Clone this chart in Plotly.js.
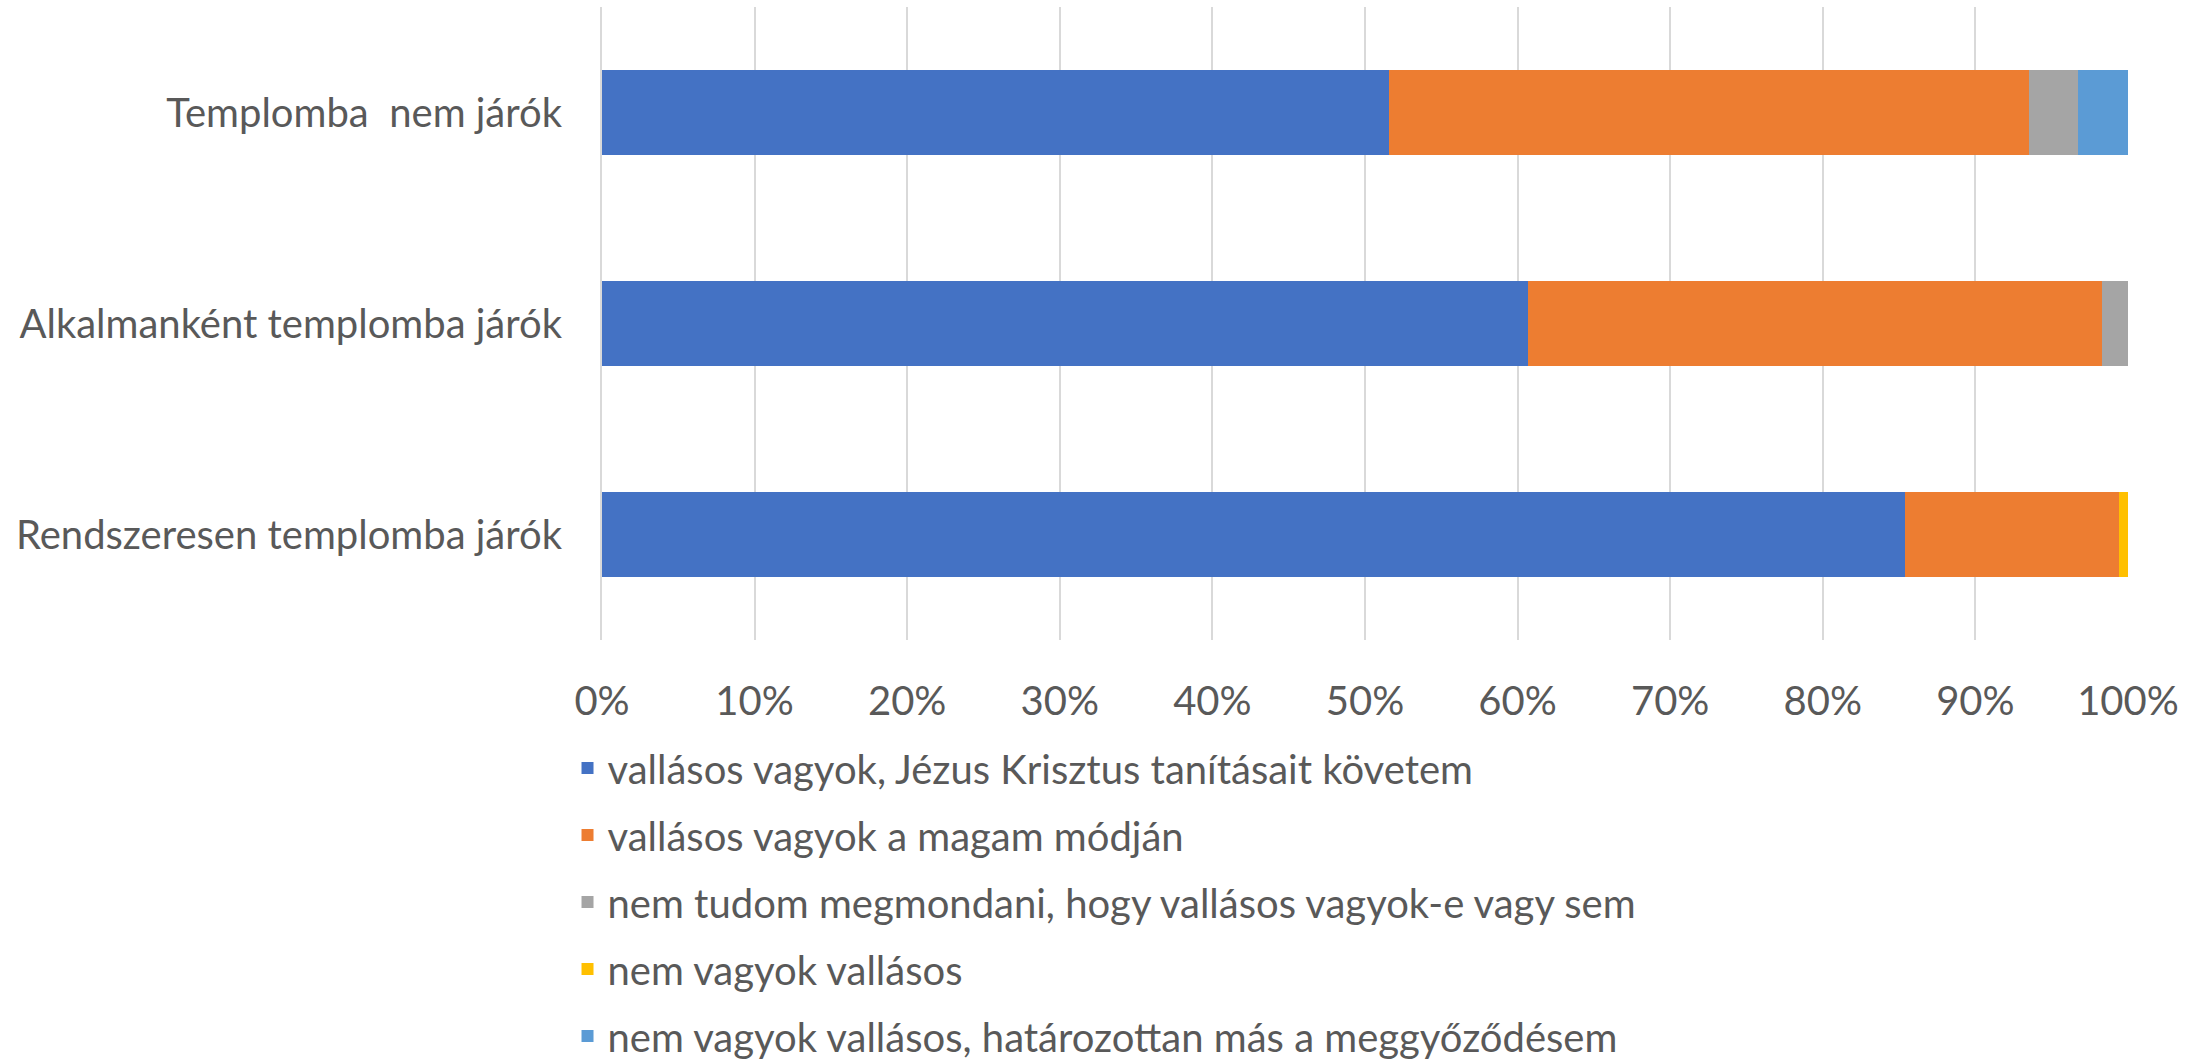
<!DOCTYPE html>
<html>
<head>
<meta charset="utf-8">
<script src="https://cdn.plot.ly/plotly-3.0.1.min.js"></script>
<style>html,body{margin:0;padding:0;background:#fff;}</style>
</head>
<body>
<div id="chart" style="width:2203px;height:1062px;"></div>
<script>
const categories = ["Rendszeresen templomba járók", "Alkalmanként templomba járók", "Templomba\u00A0 nem járók"];
const seriesNames = [
  "vallásos vagyok, Jézus Krisztus tanításait követem",
  "vallásos vagyok a magam módján",
  "nem tudom megmondani, hogy vallásos vagyok-e vagy sem",
  "nem vagyok vallásos",
  "nem vagyok vallásos, határozottan más a meggyőződésem"
];
const followJesus = [85.4, 60.7, 51.6];
const ownWay = [14.0, 37.6, 41.9];
const cannotSay = [0, 1.7, 3.2];
const notReligious = [0.6, 0, 0];
const otherConviction = [0, 0, 3.3];
const tickVals = [0, 10, 20, 30, 40, 50, 60, 70, 80, 90, 100];
const tickText = ["0%", "10%", "20%", "30%", "40%", "50%", "60%", "70%", "80%", "90%", "100%"];

const colors = ["#4472C4", "#ED7D31", "#A5A5A5", "#FFC000", "#5B9BD5"];
const values = [followJesus, ownWay, cannotSay, notReligious, otherConviction];

const FONT = "Lato, 'Open Sans', sans-serif";
const FS = 40;
const traces = values.map((v, i) => ({
  type: "bar",
  orientation: "h",
  name: seriesNames[i],
  y: categories,
  x: v,
  marker: {color: colors[i], line: {width: 0}},
  legendgroup: "g" + i,
  hoverinfo: "x+name"
}));

const layout = {
  width: 2203,
  height: 1062,
  margin: {l: 602, r: 75, t: 7, b: 422, autoexpand: false},
  paper_bgcolor: "#ffffff",
  plot_bgcolor: "#ffffff",
  barmode: "stack",
  bargap: 0.6,
  font: {family: FONT, size: FS, color: "#595959"},
  xaxis: {
    range: [0, 100],
    tickvals: tickVals,
    ticktext: tickText,
    showgrid: true,
    gridcolor: "#D9D9D9",
    gridwidth: 2,
    zeroline: false,
    showline: false,
    ticks: "",
    ticklabelstandoff: 34,
    tickfont: {family: FONT, size: FS, color: "#595959"},
    automargin: false,
    fixedrange: true
  },
  yaxis: {
    type: "category",
    showgrid: false,
    zeroline: false,
    showline: true,
    linecolor: "#D9D9D9",
    linewidth: 2,
    ticks: "",
    ticklabelstandoff: 30,
    tickfont: {family: FONT, size: FS, color: "#595959"},
    automargin: false,
    fixedrange: true
  },
  showlegend: true,
  legend: {
    orientation: "v",
    traceorder: "grouped",
    tracegroupgap: 12,
    x: -0.0226,
    xanchor: "left",
    y: -0.151,
    yanchor: "top",
    font: {family: FONT, size: FS, color: "#595959"},
    bgcolor: "rgba(0,0,0,0)"
  }
};

Plotly.newPlot("chart", traces, layout, {displayModeBar: false, staticPlot: true});
</script>
</body>
</html>
